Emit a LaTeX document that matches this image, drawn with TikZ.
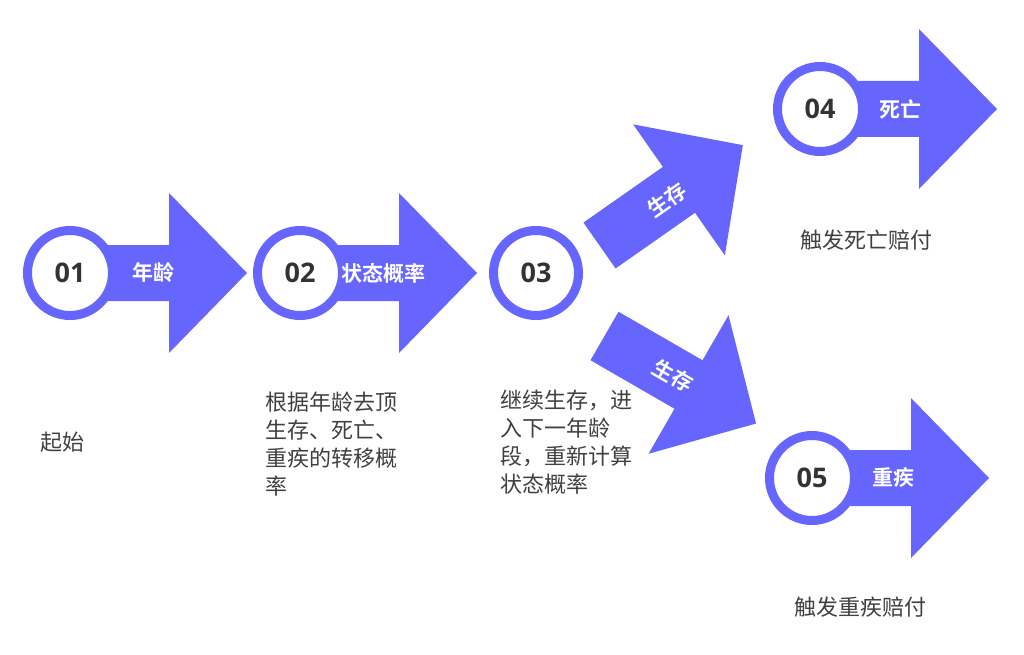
\documentclass[tikz,border=0pt]{standalone}
\usepackage{fontspec}
\usepackage{tikz}
\usetikzlibrary{positioning,calc}

\newfontfamily\cjkbold[BoldFont=*]{Noto Sans CJK SC Bold}
\newfontfamily\cjkreg{Noto Sans CJK SC}
\newfontfamily\digitfont{Open Sans}[BoldFont=* Bold]

\definecolor{flowblue}{HTML}{6666FF}
\definecolor{numgray}{HTML}{333333}
\definecolor{notegray}{HTML}{404040}

\tikzset{
	pics/flowarrow/.style={code={
		\fill[flowblue] (0,-28) -- (#1,-28) -- (#1,-80) -- ({#1+78},0) -- (#1,80) -- (#1,28) -- (0,28) -- cycle;
	}},
	ring/.style={circle, draw=flowblue, line width=9pt, fill=white, minimum size=85pt, inner sep=0pt, text=numgray, font=\digitfont\bfseries\fontsize{27}{30}\selectfont},
	tag/.style={text=white, inner sep=0pt, font=\cjkbold\fontsize{21}{24}\selectfont},
	note/.style={text=notegray, inner sep=0pt, align=left, font=\cjkreg\fontsize{22}{28}\selectfont}
}

\begin{document}
\begin{tikzpicture}[x=1pt,y=-1pt]
				\useasboundingbox (0,0) rectangle (1024,655);
				% arrows first, circles on top
				\pic at (70,273) {flowarrow=99};
				\pic at (300,273) {flowarrow=99};
				\pic[rotate=35] at (599.5,245.5) {flowarrow=97};
				\pic[rotate=-30] at (604.5,336) {flowarrow=97};
				\pic at (820,109) {flowarrow=99};
				\pic at (812,478) {flowarrow=99};
				\node[ring] (n1) at (70,273) {01};
				\node[ring] (n2) at (300,273) {02};
				\node[ring] (n3) at (536,273) {03};
				\node[ring] (n4) at (820,109) {04};
				\node[ring] (n5) at (812,478) {05};
				\node[tag] (t1) at ([xshift=83pt]n1.center) {年龄};
				\node[tag] (t2) at ([xshift=83pt]n2.center) {状态概率};
				\node[tag, rotate=35] (t3) at (667,200) {生存};
				\node[tag, rotate=-30] (t4) at (673,376) {生存};
				\node[tag] (t5) at ([xshift=80pt]n4.center) {死亡};
				\node[tag] (t6) at ([xshift=81pt]n5.center) {重疾};
				% notes
				\node[note, anchor=west] (c1) at (40,442) {起始};
				\node[note, anchor=north west] (c2) at (265,392) {根据年龄去顶\\生存、死亡、\\重疾的转移概\\率};
				\node[note, anchor=north west] (c3) at (500,390) {继续生存，进\\入下一年龄\\段，重新计算\\状态概率};
				\node[note] (c4) at (866,240) {触发死亡赔付};
				\node[note] (c5) at (860,607) {触发重疾赔付};
\end{tikzpicture}
\end{document}
